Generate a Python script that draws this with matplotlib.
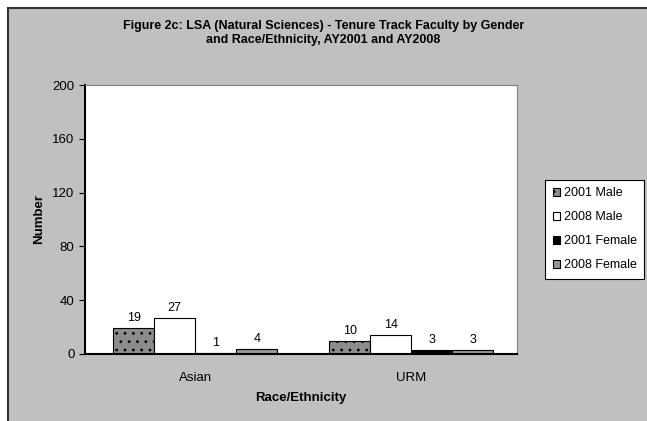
import matplotlib
matplotlib.use("Agg")
import matplotlib.pyplot as plt
from matplotlib.patches import Rectangle
import numpy as np

plt.rcParams['font.family'] = ['Liberation Sans', 'DejaVu Sans']
plt.rcParams['hatch.linewidth'] = 0.8

categories = ['Asian', 'URM']
series = ['2001 Male', '2008 Male', '2001 Female', '2008 Female']
male_2001 = [19, 10]
male_2008 = [27, 14]
female_2001 = [1, 3]
female_2008 = [4, 3]
values = [male_2001, male_2008, female_2001, female_2008]
yticks = [0, 40, 80, 120, 160, 200]

colors = ['#8c8c8c', '#ffffff', '#000000', '#999999']
hatches = ['..', None, None, None]

fig = plt.figure(figsize=(6.47, 4.21), dpi=100)
fig.patch.set_facecolor('white')
# grey chart background with dark top/left edge
fig.patches.append(Rectangle((8 / 647, 0), 1, 1 - 8 / 421, transform=fig.transFigure,
                             facecolor='#c0c0c0', edgecolor='none', zorder=-10))
fig.lines.append(plt.Line2D([8 / 647, 8 / 647], [0, 1 - 8 / 421], transform=fig.transFigure,
                            color='#333333', lw=1.5, zorder=-5))
fig.lines.append(plt.Line2D([8 / 647, 1], [1 - 8 / 421, 1 - 8 / 421], transform=fig.transFigure,
                            color='#333333', lw=1.5, zorder=-5))

ax = fig.add_axes([85 / 647, 1 - 354 / 421, 432 / 647, 269 / 421])
ax.set_facecolor('white')

x = np.arange(len(categories))
width = 0.19
for i, (name, vals) in enumerate(zip(series, values)):
    pos = x + (i - 1.5) * width
    bars = ax.bar(pos, vals, width, color=colors[i], edgecolor='black', linewidth=0.8,
                  hatch=hatches[i], label=name, zorder=2)
    for b, v in zip(bars, vals):
        ax.text(b.get_x() + b.get_width() / 2, v + 3, str(v), ha='center', va='bottom',
                fontsize=9)

ax.set_xlim(-0.51, 1.49)
ax.set_ylim(0, 200)
ax.set_yticks(yticks)
ax.set_xticks(x)
ax.set_xticklabels(categories, fontsize=9.5)
ax.tick_params(axis='y', labelsize=9.5, direction='out', length=4, width=0.8)
ax.tick_params(axis='x', length=0, pad=13)

for side in ['top', 'right']:
    ax.spines[side].set_color('#808080')
    ax.spines[side].set_linewidth(0.8)
ax.spines['left'].set_linewidth(1.5)
ax.spines['bottom'].set_linewidth(1.5)

ax.set_ylabel('Number', fontsize=9.5, fontweight='bold', labelpad=5)
ax.set_xlabel('Race/Ethnicity', fontsize=9.5, fontweight='bold', labelpad=6)

fig.text(0.5, 1 - 33 / 421, 'Figure 2c: LSA (Natural Sciences) - Tenure Track Faculty by Gender\n'
         'and Race/Ethnicity, AY2001 and AY2008', ha='center', va='center',
         fontsize=9, fontweight='bold', linespacing=1.2)

leg = fig.legend(loc='upper left', bbox_to_anchor=(545 / 647, 1 - 180 / 421),
                 fontsize=9, frameon=True, fancybox=False, edgecolor='black',
                 facecolor='white', framealpha=1,
                 handlelength=0.6, handleheight=0.6, handletextpad=0.3,
                 labelspacing=0.95, borderpad=0.6, borderaxespad=0)
leg.get_frame().set_linewidth(0.8)

fig.savefig('out.png', dpi=100, facecolor=fig.get_facecolor())
